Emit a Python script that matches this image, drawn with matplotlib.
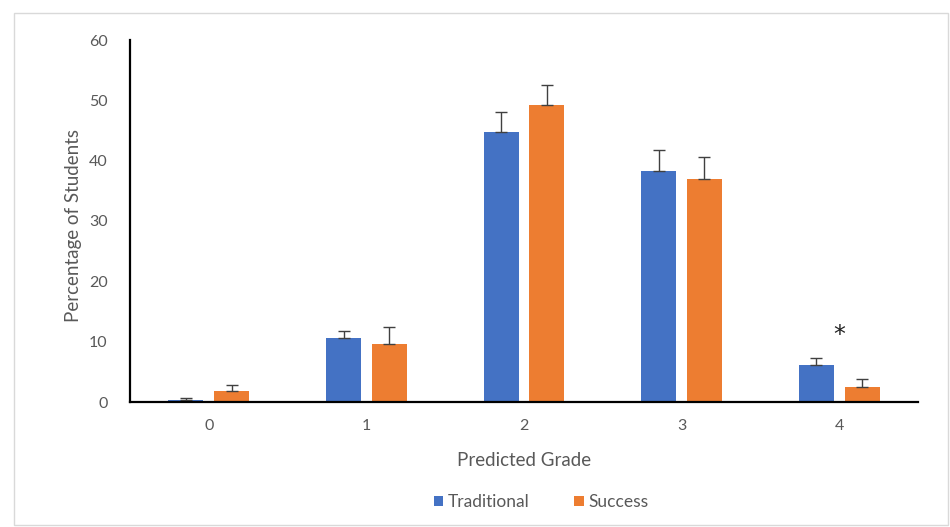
import matplotlib
matplotlib.use("Agg")
import matplotlib.pyplot as plt
from matplotlib.patches import Rectangle
import numpy as np

plt.rcParams['font.family'] = ['Lato', 'DejaVu Sans']

grades = ["0", "1", "2", "3", "4"]
traditional = [0.3, 10.6, 44.8, 38.3, 6.1]
traditional_err = [0.4, 1.2, 3.3, 3.5, 1.2]
success = [1.8, 9.6, 49.2, 37.0, 2.5]
success_err = [1.0, 2.8, 3.4, 3.6, 1.3]
series_names = ["Traditional", "Success"]
y_ticks = [0, 10, 20, 30, 40, 50, 60]

blue = "#4472C4"
orange = "#ED7D31"
text_grey = "#595959"

fig = plt.figure(figsize=(9.5, 5.27), dpi=100)
fig.patch.set_facecolor("white")

# light frame around the chart area
fig.patches.append(Rectangle((14 / 950, 2 / 527), 934 / 950, 512 / 527,
                             transform=fig.transFigure, fill=False,
                             edgecolor="#d9d9d9", linewidth=1.0))

ax = fig.add_axes([130 / 950, 1 - 402 / 527, 788 / 950, 362 / 527])

x = np.arange(len(grades))
width = 0.222
offset = 0.145

err_kw = dict(ecolor="#404040", elinewidth=1.0, capsize=4, capthick=1.0)
ax.bar(x - offset, traditional, width, color=blue, label=series_names[0],
       yerr=[np.zeros(len(grades)), traditional_err], error_kw=err_kw, zorder=2)
ax.bar(x + offset, success, width, color=orange, label=series_names[1],
       yerr=[np.zeros(len(grades)), success_err], error_kw=err_kw, zorder=2)

# significance marker for grade 4
ax.text(x[4], 11.1, "*", ha="center", va="center", fontsize=17,
        family="DejaVu Sans", color="#222222")

ax.set_xlim(-0.5, len(grades) - 0.5)
ax.set_ylim(0, 60)
ax.set_yticks(y_ticks)
ax.set_xticks(x)
ax.set_xticklabels(grades)

for s in ["top", "right"]:
    ax.spines[s].set_visible(False)
ax.spines["left"].set_color("black")
ax.spines["bottom"].set_color("black")
ax.spines["left"].set_linewidth(1.6)
ax.spines["bottom"].set_linewidth(1.6)

ax.tick_params(axis="both", length=0, labelsize=11.5, labelcolor=text_grey)
ax.tick_params(axis="y", pad=16)
ax.tick_params(axis="x", pad=12)

ax.set_xlabel("Predicted Grade", fontsize=13.5, color=text_grey)
ax.set_ylabel("Percentage of Students", fontsize=13.5, color=text_grey)
ax.xaxis.label.set_va("center")
ax.yaxis.label.set_va("center")
ax.xaxis.set_label_coords(0.5, (402 - 461) / 362)
ax.yaxis.set_label_coords((73 - 130) / 788, 0.5 + (402 - 226 - 181) / 362)

handles, labels = ax.get_legend_handles_labels()
fig.legend(handles, labels, loc="center", bbox_to_anchor=(541 / 950, 1 - 502 / 527),
           ncol=2, frameon=False, fontsize=12.5, labelcolor=text_grey,
           handlelength=0.55, handleheight=0.55, handletextpad=0.25, columnspacing=2.6)

fig.savefig("out.png", dpi=100, facecolor="white")
